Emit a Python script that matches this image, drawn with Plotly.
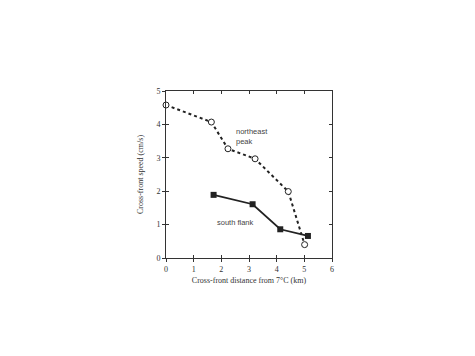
import plotly.graph_objects as go

ne_x = [0.0, 1.64, 2.24, 3.22, 4.42, 5.01]
ne_y = [4.58, 4.07, 3.27, 2.97, 1.99, 0.40]
sf_x = [1.72, 3.13, 4.13, 5.13]
sf_y = [1.89, 1.61, 0.86, 0.66]
x_ticks = [0, 1, 2, 3, 4, 5, 6]
y_ticks = [0, 1, 2, 3, 4, 5]

fig = go.Figure()
fig.add_trace(go.Scatter(x=ne_x, y=ne_y, mode="lines+markers",
                         line=dict(color="#222", width=2, dash="dot"),
                         marker=dict(symbol="circle", size=6, color="white", line=dict(width=1, color="#222")),
                         cliponaxis=False, showlegend=False))
fig.add_trace(go.Scatter(x=sf_x, y=sf_y, mode="lines+markers",
                         line=dict(color="#222", width=1.8),
                         marker=dict(symbol="square", size=6, color="#222"),
                         cliponaxis=False, showlegend=False))
fig.add_trace(go.Scatter(x=[None], y=[None], xaxis="x2", yaxis="y2", showlegend=False))

fig.add_annotation(x=2.46, y=3.65, text="northeast<br>peak", showarrow=False, xanchor="left",
                   align="left", font=dict(family="Liberation Sans", size=7.5, color="#444"))
fig.add_annotation(x=1.78, y=1.06, text="south flank", showarrow=False, xanchor="left",
                   font=dict(family="Liberation Sans", size=7.5, color="#444"))

axfont = dict(family="Liberation Serif", size=8, color="#333")
fig.update_layout(
    width=475, height=356,
    margin=dict(l=158, r=151, t=83, b=106, autoexpand=False),
    paper_bgcolor="white", plot_bgcolor="white",
    xaxis=dict(range=[0, 6], tickvals=x_ticks, ticks="outside", ticklen=3, tickcolor="#333",
               showline=True, linecolor="#333", linewidth=1, mirror=True, showgrid=False, zeroline=False,
               tickfont=axfont, automargin=False,
               title=dict(text="Cross-front distance from 7°C (km)", font=dict(family="Liberation Serif", size=8, color="#333"), standoff=4)),
    yaxis=dict(range=[0, 5], tickvals=y_ticks, ticks="outside", ticklen=3, tickcolor="#333",
               showline=True, linecolor="#333", linewidth=1, mirror=True, showgrid=False, zeroline=False,
               tickfont=axfont, automargin=False,
               title=dict(text="Cross-front speed (cm/s)", font=dict(family="Liberation Serif", size=8, color="#333"), standoff=11)),
    xaxis2=dict(range=[0, 6], tickvals=x_ticks, ticks="inside", ticklen=3, tickcolor="#333",
                overlaying="x", mirror="ticks", showticklabels=False, showgrid=False, zeroline=False,
                showline=False, matches="x", automargin=False),
    yaxis2=dict(range=[0, 5], tickvals=y_ticks, ticks="inside", ticklen=3, tickcolor="#333",
                overlaying="y", mirror="ticks", showticklabels=False, showgrid=False, zeroline=False,
                showline=False, matches="y", automargin=False),
)
fig.write_html("out.html")
